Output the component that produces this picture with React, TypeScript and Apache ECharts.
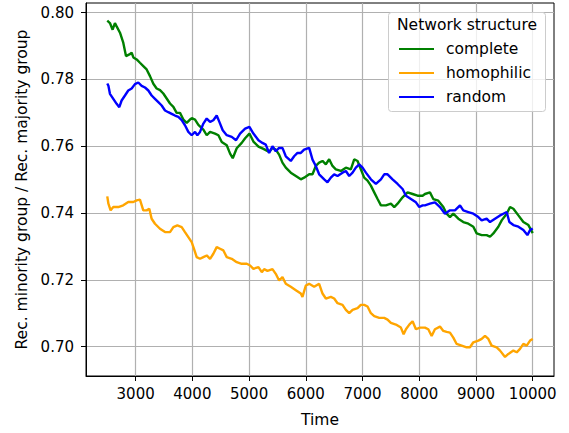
import { useEffect, useRef } from "react";
import * as echarts from "echarts";

// complete network
const completeTime = [
  2500, 2547, 2594, 2635, 2665, 2724, 2782, 2830, 2890, 2930, 2960, 3018, 3076, 3135, 3194, 3253,
  3312, 3370, 3430, 3488, 3547, 3606, 3665, 3723, 3782, 3841, 3900, 3958, 3990, 4047, 4106, 4194,
  4253, 4312, 4400, 4459, 4518, 4606, 4665, 4712, 4782, 4870, 4930, 5006, 5076, 5165, 5253, 5353,
  5412, 5470, 5529, 5588, 5647, 5735, 5824, 5912, 5970, 6059, 6118, 6176, 6235, 6294, 6353, 6412,
  6470, 6529, 6618, 6706, 6794, 6853, 6912, 6970, 7029, 7088, 7147, 7206, 7265, 7324, 7412, 7500,
  7559, 7618, 7706, 7794, 7882, 7970, 8059, 8100, 8188, 8247, 8335, 8424, 8482, 8541, 8600, 8688,
  8776, 8865, 8953, 9012, 9100, 9188, 9247, 9306, 9394, 9453, 9541, 9600, 9659, 9747, 9835, 9924,
  10000,
];
const complete = [
  0.7976, 0.7969, 0.7949, 0.7969, 0.7959, 0.794, 0.791, 0.787, 0.7875, 0.788, 0.7866, 0.786, 0.785, 0.784, 0.783, 0.781,
  0.7787, 0.7773, 0.7768, 0.7758, 0.7743, 0.7728, 0.7718, 0.77, 0.77, 0.768, 0.767, 0.768, 0.7684, 0.768, 0.7664, 0.765,
  0.7633, 0.7643, 0.7638, 0.7633, 0.7613, 0.7603, 0.7578, 0.7564, 0.7594, 0.761, 0.7624, 0.7638, 0.7614, 0.7599, 0.7592, 0.7583,
  0.7595, 0.759, 0.7575, 0.7551, 0.7536, 0.7521, 0.7511, 0.7501, 0.7506, 0.7516, 0.7516, 0.7541, 0.7551, 0.7556, 0.7546, 0.7561,
  0.7541, 0.7531, 0.7526, 0.7536, 0.7531, 0.7561, 0.7556, 0.7531, 0.7506, 0.7497, 0.7482, 0.7462, 0.7442, 0.7423, 0.7423, 0.7428,
  0.7418, 0.7428, 0.7447, 0.7462, 0.7457, 0.7452, 0.7452, 0.7457, 0.7462, 0.7442, 0.7437, 0.7418, 0.7398, 0.7388, 0.7398, 0.7383,
  0.7373, 0.7368, 0.7359, 0.7339, 0.7334, 0.7334, 0.7329, 0.7339, 0.7359, 0.7378, 0.7398, 0.7418, 0.7413, 0.7393, 0.7373, 0.7364,
  0.734,
];

// homophilic network
const homophilicTime = [
  2500, 2520, 2559, 2606, 2694, 2782, 2870, 2959, 3018, 3076, 3135, 3194, 3241, 3282, 3341, 3429,
  3518, 3606, 3665, 3735, 3812, 3870, 3929, 3988, 4029, 4076, 4135, 4194, 4253, 4312, 4370, 4429,
  4488, 4547, 4606, 4694, 4782, 4870, 4959, 5018, 5076, 5165, 5224, 5265, 5324, 5412, 5470, 5529,
  5588, 5647, 5735, 5824, 5912, 5941, 6000, 6059, 6147, 6235, 6294, 6353, 6441, 6500, 6559, 6647,
  6706, 6765, 6824, 6912, 6970, 7029, 7088, 7147, 7206, 7294, 7382, 7441, 7500, 7588, 7676, 7724,
  7765, 7824, 7882, 7941, 8012, 8100, 8159, 8218, 8276, 8365, 8424, 8482, 8541, 8600, 8659, 8747,
  8835, 8894, 8953, 9041, 9100, 9159, 9218, 9276, 9365, 9424, 9512, 9571, 9659, 9718, 9776, 9835,
  9894, 9953, 10000,
];
const homophilic = [
  0.745, 0.7428, 0.7408, 0.7418, 0.7418, 0.7423, 0.7433, 0.7433, 0.7438, 0.744, 0.7408, 0.7408, 0.7413, 0.7383, 0.7368, 0.7353,
  0.7343, 0.7343, 0.7358, 0.7363, 0.7358, 0.7343, 0.7328, 0.7313, 0.7293, 0.7268, 0.7263, 0.7268, 0.7273, 0.7263, 0.7278, 0.7298,
  0.7293, 0.7288, 0.7268, 0.7263, 0.7253, 0.7248, 0.7248, 0.7243, 0.7233, 0.7238, 0.7223, 0.7232, 0.7227, 0.7232, 0.7218, 0.7198,
  0.7208, 0.7188, 0.7179, 0.7169, 0.7159, 0.7149, 0.7183, 0.7188, 0.7179, 0.7188, 0.7159, 0.7144, 0.7149, 0.7144, 0.713, 0.7125,
  0.711, 0.71, 0.711, 0.7115, 0.7125, 0.7125, 0.712, 0.71, 0.7091, 0.7086, 0.7086, 0.7081, 0.7071, 0.7066, 0.7057, 0.7037,
  0.7052, 0.7066, 0.7076, 0.7052, 0.7057, 0.7057, 0.7052, 0.7032, 0.7052, 0.706, 0.7047, 0.7044, 0.7042, 0.7027, 0.7008, 0.7003,
  0.6998, 0.6998, 0.7013, 0.7018, 0.7023, 0.7032, 0.7023, 0.7003, 0.6998, 0.6988, 0.6969, 0.6978, 0.6988, 0.6983, 0.6993, 0.7008,
  0.7003, 0.7018, 0.7023,
];

// random network
const randomTime = [
  2500, 2520, 2547, 2606, 2665, 2712, 2753, 2812, 2870, 2930, 2988, 3047, 3106, 3165, 3224, 3282,
  3341, 3400, 3459, 3518, 3576, 3635, 3694, 3753, 3812, 3870, 3929, 3988, 4047, 4088, 4135, 4194,
  4253, 4312, 4370, 4429, 4476, 4535, 4606, 4694, 4770, 4841, 4930, 5006, 5076, 5165, 5235, 5294,
  5353, 5412, 5470, 5529, 5588, 5647, 5735, 5794, 5853, 5912, 5970, 6059, 6118, 6176, 6235, 6324,
  6382, 6441, 6500, 6559, 6647, 6706, 6765, 6824, 6882, 6941, 7000, 7059, 7147, 7235, 7324, 7382,
  7441, 7529, 7618, 7706, 7765, 7853, 7941, 8000, 8059, 8100, 8188, 8276, 8365, 8453, 8541, 8629,
  8718, 8776, 8865, 8953, 9041, 9100, 9188, 9247, 9335, 9424, 9482, 9541, 9588, 9659, 9747, 9835,
  9906, 9953, 10000,
];
const random = [
  0.7788, 0.7781, 0.7757, 0.7742, 0.7727, 0.7717, 0.7737, 0.7752, 0.7767, 0.7773, 0.7786, 0.7791, 0.7781, 0.7776, 0.7767, 0.7752,
  0.7742, 0.7732, 0.7722, 0.7707, 0.7702, 0.7697, 0.7692, 0.7688, 0.7678, 0.7663, 0.7643, 0.7633, 0.7643, 0.7633, 0.7643, 0.7668,
  0.7683, 0.7673, 0.7678, 0.7692, 0.7673, 0.7648, 0.7633, 0.7628, 0.7618, 0.7638, 0.7653, 0.7658, 0.7638, 0.7618, 0.761, 0.7605,
  0.758, 0.76, 0.7585, 0.7595, 0.7595, 0.757, 0.7556, 0.757, 0.758, 0.758, 0.759, 0.7595, 0.756, 0.7541, 0.7516, 0.7501,
  0.7492, 0.7506, 0.7516, 0.7511, 0.7521, 0.7526, 0.7511, 0.7521, 0.7536, 0.7546, 0.7536, 0.7521, 0.7501, 0.7487, 0.7501, 0.7516,
  0.7516, 0.7501, 0.7487, 0.7472, 0.7452, 0.7442, 0.7432, 0.7418, 0.7423, 0.7423, 0.7428, 0.7432, 0.7418, 0.7398, 0.7408, 0.7408,
  0.7423, 0.7408, 0.7403, 0.7398, 0.7388, 0.7378, 0.7383, 0.7373, 0.7383, 0.7393, 0.7398, 0.7403, 0.7373, 0.7364, 0.7359, 0.7349,
  0.7334, 0.7349, 0.7354,
];

const xTicks = [3000, 4000, 5000, 6000, 7000, 8000, 9000, 10000];
const yTicks = [0.7, 0.72, 0.74, 0.76, 0.78, 0.8];

const seriesNames = ["complete", "homophilic", "random"];
const seriesColors = ["#008000", "#ffa500", "#0000ff"];
const seriesTimes = [completeTime, homophilicTime, randomTime];
const seriesValues = [complete, homophilic, random];

export default function App() {
  const ref = useRef<HTMLDivElement>(null);
  useEffect(() => {
    const chart = echarts.init(ref.current!, null, { renderer: "svg" });
    const font = "DejaVu Sans";
    const axisCommon = {
      axisLine: { show: true, onZero: false, lineStyle: { color: "#000", width: 1 } },
      axisTick: { show: true, inside: false, length: 5, lineStyle: { color: "#000", width: 1 } },
      splitLine: { show: true, lineStyle: { color: "#b0b0b0", width: 1.2 } },
    };
    chart.setOption({
      animation: false,
      backgroundColor: "#fff",
      grid: {
        left: 86,
        right: 15,
        top: 3,
        bottom: 52,
        show: true,
        borderColor: "#000",
        borderWidth: 1,
        backgroundColor: "transparent",
      },
      xAxis: {
        type: "value",
        min: 2125,
        max: 10375,
        ...axisCommon,
        axisTick: { ...axisCommon.axisTick, customValues: xTicks },
        axisLabel: {
          customValues: xTicks,
          margin: 10,
          color: "#000",
          fontFamily: font,
          fontSize: 15,
          formatter: (v: number) => String(Math.round(v)),
        },
        name: "Time",
        nameLocation: "middle",
        nameGap: 36,
        nameTextStyle: { color: "#000", fontFamily: font, fontSize: 15.5 },
      },
      yAxis: {
        type: "value",
        min: 0.6912,
        max: 0.8029,
        ...axisCommon,
        axisTick: { ...axisCommon.axisTick, customValues: yTicks },
        axisLabel: {
          customValues: yTicks,
          margin: 12,
          color: "#000",
          fontFamily: font,
          fontSize: 15,
          formatter: (v: number) => v.toFixed(2),
        },
        name: "Rec. minority group / Rec. majority group",
        nameLocation: "middle",
        nameGap: 55,
        nameTextStyle: { color: "#000", fontFamily: font, fontSize: 15.5 },
      },
      legend: {
        data: seriesNames,
        orient: "vertical",
        left: 399,
        top: 37,
        padding: 0,
        itemGap: 0,
        itemWidth: 35,
        itemHeight: 2,
        icon: "rect",
        textStyle: {
          color: "#000",
          fontFamily: font,
          fontSize: 15.5,
          lineHeight: 24,
          padding: [0, 0, 0, 7],
        },
        z: 6,
      },
      graphic: [
        {
          type: "rect",
          z: 3,
          shape: { x: 388.5, y: 12.5, width: 157, height: 99, r: 3 },
          style: { fill: "rgba(255,255,255,0.8)", stroke: "#cccccc", lineWidth: 1 },
        },
        {
          type: "text",
          z: 7,
          x: 467,
          y: 25,
          style: {
            text: "Network structure",
            fill: "#000",
            font: `15.5px "${font}"`,
            align: "center",
            verticalAlign: "middle",
          },
        },
      ],
      series: seriesNames.map((name, k) => ({
        name,
        type: "line",
        data: seriesTimes[k].map((t, i) => [t, seriesValues[k][i]]),
        symbol: "none",
        showSymbol: false,
        lineStyle: { color: seriesColors[k], width: 2.4 },
        itemStyle: { color: seriesColors[k] },
        z: 2,
      })),
    });
    return () => chart.dispose();
  }, []);
  return (
    <div
      ref={ref}
      style={{ position: "fixed", left: 0, top: 0, width: 569, height: 433 }}
    />
  );
}
